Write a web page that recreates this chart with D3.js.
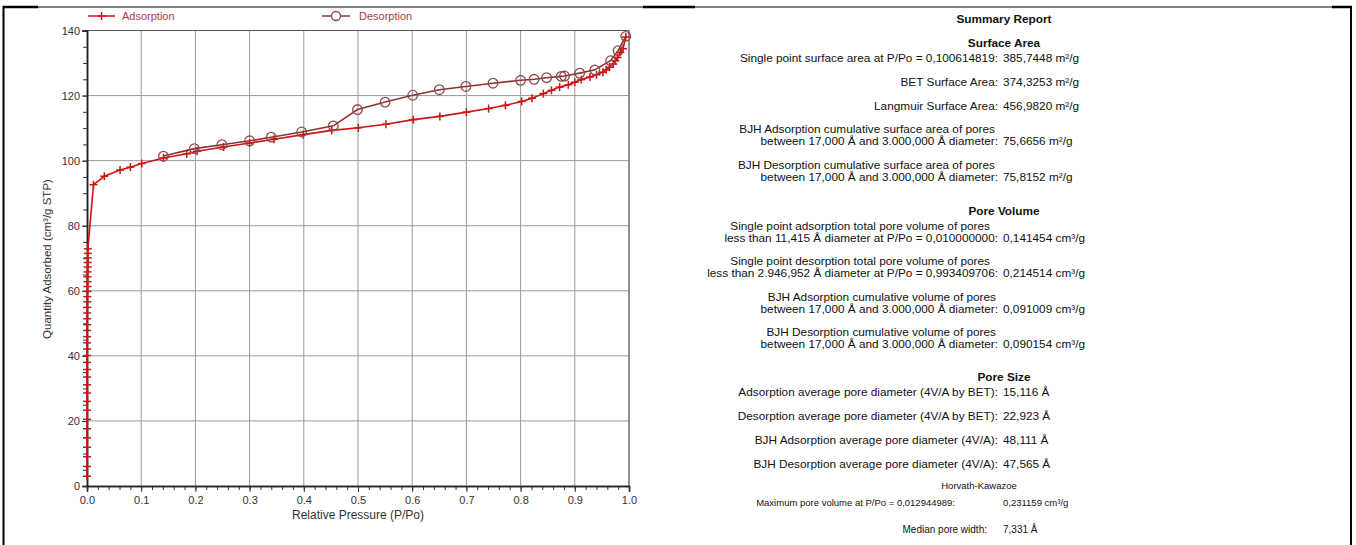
<!DOCTYPE html>
<html>
<head>
<meta charset="utf-8">
<script src="https://cdn.jsdelivr.net/npm/d3@7/dist/d3.min.js"></script>
<style>
  html, body { margin: 0; padding: 0; background: #fff; }
  svg { display: block; font-family: "Liberation Sans", Arial, sans-serif; }
</style>
</head>
<body>
<svg id="chart" width="1356" height="545"></svg>
<script>
// ---------------- DATA ----------------
// Adsorption branch: near-zero pressure stack (micropore filling)
const adsStackP = [0.00001,0.00002,0.00003,0.00004,0.00005,0.00006,0.00007,0.00008,0.00009,0.0001,
                   0.00012,0.00014,0.00016,0.00018,0.0002,0.00023,0.00026,0.0003,0.00034,0.00038,
                   0.00043,0.00048,0.00054,0.0006,0.00067,0.00075,0.00083,0.00092,0.001,0.0011,
                   0.0012,0.0013,0.0014,0.0015,0.0016];
const adsStackQ = [3.0,6.0,9.0,11.9,14.8,17.6,20.5,23.3,26.0,28.6,
                   31.1,33.5,35.8,38.0,40.1,42.1,44.0,45.9,47.8,49.6,
                   51.4,53.2,54.9,56.6,58.2,59.8,61.3,62.8,64.3,65.8,
                   67.3,68.7,70.1,71.5,72.9];
const adsP = [0.012,0.032,0.061,0.080,0.101,0.141,0.184,0.203,0.252,0.300,0.345,0.399,0.4515,0.5006,0.5516,
              0.602,0.651,0.700,0.741,0.772,0.802,0.821,0.842,0.857,0.872,0.888,0.900,0.912,0.928,0.940,
              0.952,0.958,0.964,0.971,0.975,0.979,0.984,0.989,0.994];
const adsQ = [92.6,95.2,97.1,98.0,99.1,100.8,102.1,102.9,104.2,105.4,106.6,108.0,109.3,110.1,111.2,
              112.6,113.6,114.9,116.0,117.0,118.2,119.2,120.6,121.6,122.6,123.3,124.1,124.9,125.7,126.4,
              127.2,127.9,128.7,129.7,130.7,131.7,133.3,134.4,138.0];
// Desorption branch
const desP = [0.994,0.980,0.966,0.937,0.909,0.881,0.875,0.848,0.825,0.800,0.749,0.699,0.650,0.601,0.550,
              0.499,0.4545,0.396,0.340,0.300,0.249,0.198,0.141];
const desQ = [138.2,133.8,130.7,127.9,126.9,126.0,125.9,125.5,125.0,124.7,123.8,122.8,121.8,120.1,118.0,
              115.7,110.7,108.8,107.2,106.1,104.9,103.7,101.4];

const xMajorTicks = [0.0,0.1,0.2,0.3,0.4,0.5,0.6,0.7,0.8,0.9,1.0];
const yMajorTicks = [0,20,40,60,80,100,120,140];
const seriesNames = ["Adsorption","Desorption"];
const xTitle = "Relative Pressure (P/Po)";
const yTitle = "Quantity Adsorbed (cm³/g STP)";

// Summary report text
const reportTitle = "Summary Report";
const sectionTitles = ["Surface Area","Pore Volume","Pore Size"];
const reportLabels = [
  ["Single point surface area at P/Po = 0,100614819:"],
  ["BET Surface Area:"],
  ["Langmuir Surface Area:"],
  ["BJH Adsorption cumulative surface area of pores","between 17,000 Å and 3.000,000 Å diameter:"],
  ["BJH Desorption cumulative surface area of pores","between 17,000 Å and 3.000,000 Å diameter:"],
  ["Single point adsorption total pore volume of pores","less than 11,415 Å diameter at P/Po = 0,010000000:"],
  ["Single point desorption total pore volume of pores","less than 2.946,952 Å diameter at P/Po = 0,993409706:"],
  ["BJH Adsorption cumulative volume of pores","between 17,000 Å and 3.000,000 Å diameter:"],
  ["BJH Desorption cumulative volume of pores","between 17,000 Å and 3.000,000 Å diameter:"],
  ["Adsorption average pore diameter (4V/A by BET):"],
  ["Desorption average pore diameter (4V/A by BET):"],
  ["BJH Adsorption average pore diameter (4V/A):"],
  ["BJH Desorption average pore diameter (4V/A):"]
];
const reportValues = ["385,7448 m²/g","374,3253 m²/g","456,9820 m²/g","75,6656 m²/g","75,8152 m²/g",
  "0,141454 cm³/g","0,214514 cm³/g","0,091009 cm³/g","0,090154 cm³/g",
  "15,116 Å","22,923 Å","48,111 Å","47,565 Å"];
const hkTitle = "Horvath-Kawazoe";
const hkLabels = ["Maximum pore volume at P/Po = 0,012944989:","Median pore width:"];
const hkValues = ["0,231159 cm³/g","7,331 Å"];

// ---------------- DRAW ----------------
const svg = d3.select("#chart");
svg.append("rect").attr("width",1356).attr("height",545).attr("fill","#fff");

// page frame
const frame = svg.append("g").attr("stroke","#000").attr("fill","none");
frame.append("line").attr("x1",3.5).attr("x2",3.5).attr("y1",6).attr("y2",545).attr("stroke-width",2);
frame.append("line").attr("x1",3).attr("x2",1352).attr("y1",7).attr("y2",7).attr("stroke-width",1);
frame.append("line").attr("x1",3).attr("x2",38).attr("y1",7).attr("y2",7).attr("stroke-width",2.5);
frame.append("line").attr("x1",643).attr("x2",695).attr("y1",7).attr("y2",7).attr("stroke-width",2.5);
frame.append("line").attr("x1",1332).attr("x2",1352).attr("y1",7).attr("y2",7).attr("stroke-width",2.5);
frame.append("line").attr("x1",1351).attr("x2",1351).attr("y1",6).attr("y2",545).attr("stroke-width",2);

const x = d3.scaleLinear().domain([0,1]).range([87,629]);
const y = d3.scaleLinear().domain([0,140]).range([486,30.5]);

// grid
const grid = svg.append("g").attr("stroke","#9a9a9a").attr("stroke-width",1);
grid.selectAll(".gx").data(xMajorTicks.slice(1)).join("line")
  .attr("x1",d=>x(d)).attr("x2",d=>x(d)).attr("y1",y(0)).attr("y2",y(140));
grid.selectAll(".gy").data(yMajorTicks.slice(1)).join("line")
  .attr("x1",x(0)).attr("x2",x(1)).attr("y1",d=>y(d)).attr("y2",d=>y(d));
// plot frame right/top
grid.append("line").attr("x1",x(1)).attr("x2",x(1)).attr("y1",y(0)).attr("y2",y(140)).attr("stroke","#555");
grid.append("line").attr("x1",x(0)).attr("x2",x(1)).attr("y1",y(140)).attr("y2",y(140)).attr("stroke","#555");

// axes
const xMinor = d3.range(0,1.0001,0.02).map(v=>+v.toFixed(2));
const yMinor = d3.range(0,140.001,5);
const gxMinor = svg.append("g").attr("transform",`translate(0,${y(0)})`)
  .call(d3.axisBottom(x).tickValues(xMinor).tickSize(4).tickFormat(""));
const gx = svg.append("g").attr("transform",`translate(0,${y(0)})`)
  .call(d3.axisBottom(x).tickValues(xMajorTicks).tickSize(6).tickPadding(4).tickFormat(d3.format(".1f")));
const gyMinor = svg.append("g").attr("transform",`translate(${x(0)},0)`)
  .call(d3.axisLeft(y).tickValues(yMinor).tickSize(4).tickFormat(""));
const gy = svg.append("g").attr("transform",`translate(${x(0)},0)`)
  .call(d3.axisLeft(y).tickValues(yMajorTicks).tickSize(5).tickPadding(2).tickFormat(d3.format("d")));
[gx,gy,gxMinor,gyMinor].forEach(g=>{
  g.select(".domain").attr("stroke","#222").attr("stroke-width",1.5);
  g.selectAll(".tick line").attr("stroke","#333");
  g.selectAll("text").attr("fill","#333").style("font-size","11px").style("font-family","'Liberation Sans', Arial, sans-serif");
});

// titles
svg.append("text").attr("x",358).attr("y",519).attr("text-anchor","middle")
  .style("font-size","12px").attr("fill","#333").text(xTitle);
svg.append("text").attr("transform",`translate(51,259) rotate(-90)`).attr("text-anchor","middle")
  .style("font-size","11.5px").attr("fill","#333").text(yTitle);

// series
const adsColor = "#cc1515", desColor = "#8a3434", desMarker = "#8e4a4a";
const adsData = adsStackP.map((p,i)=>({p,q:adsStackQ[i]})).concat(adsP.map((p,i)=>({p,q:adsQ[i]})));
const desData = desP.map((p,i)=>({p,q:desQ[i]}));
const line = d3.line().x(d=>x(d.p)).y(d=>y(d.q));

svg.append("path").datum(desData).attr("d",line).attr("fill","none").attr("stroke",desColor).attr("stroke-width",1.6);
svg.append("path").datum(adsData).attr("d",line).attr("fill","none").attr("stroke",adsColor).attr("stroke-width",1.6);

const cross = (g,cx,cy,s,color)=>{
  g.append("line").attr("x1",cx-s).attr("x2",cx+s).attr("y1",cy).attr("y2",cy).attr("stroke",color).attr("stroke-width",1.5);
  g.append("line").attr("x1",cx).attr("x2",cx).attr("y1",cy-s).attr("y2",cy+s).attr("stroke",color).attr("stroke-width",1.5);
};
const adsMarks = svg.append("g");
adsData.forEach(d=>cross(adsMarks,x(d.p),y(d.q),4,adsColor));
svg.append("g").selectAll("circle").data(desData).join("circle")
  .attr("cx",d=>x(d.p)).attr("cy",d=>y(d.q)).attr("r",4.8)
  .attr("fill","none").attr("stroke",desMarker).attr("stroke-width",1.3);

// legend
const leg = svg.append("g").style("font-size","11px");
leg.append("line").attr("x1",88).attr("x2",115).attr("y1",16).attr("y2",16).attr("stroke",adsColor).attr("stroke-width",1.5);
cross(leg,101.5,16,4,adsColor);
leg.append("text").attr("x",122).attr("y",20).attr("fill","#b03a44").text(seriesNames[0]);
leg.append("line").attr("x1",322).attr("x2",350).attr("y1",16).attr("y2",16).attr("stroke",desColor).attr("stroke-width",1.5);
leg.append("circle").attr("cx",336).attr("cy",16).attr("r",4.5).attr("fill","#fff").attr("stroke",desMarker).attr("stroke-width",1.3);
leg.append("text").attr("x",359).attr("y",20).attr("fill","#a0424a").text(seriesNames[1]);

// ---------------- REPORT ----------------
const rep = svg.append("g").attr("fill","#111").style("font-size","11.8px");
const colonX = 998, valX = 1003;
rep.append("text").attr("x",1004).attr("y",23).attr("text-anchor","middle").attr("font-weight","bold").text(reportTitle);
const secY = [47,215,381];
sectionTitles.forEach((t,i)=>rep.append("text").attr("x",1004).attr("y",secY[i]).attr("text-anchor","middle").attr("font-weight","bold").text(t));
// baseline positions of the label lines (last line of each entry)
const entryY = [62,86,110,145,181,242,277,313,348,396,420,444,468];
const firstLineEnd = [998,998,998,995,995,990,990,996,996,998,998,998,998];
reportLabels.forEach((lines,i)=>{
  const yb = entryY[i];
  if (lines.length===2){
    rep.append("text").attr("x",firstLineEnd[i]).attr("y",yb-12).attr("text-anchor","end").text(lines[0]);
    rep.append("text").attr("x",colonX).attr("y",yb).attr("text-anchor","end").text(lines[1]);
  } else {
    rep.append("text").attr("x",colonX).attr("y",yb).attr("text-anchor","end").text(lines[0]);
  }
  rep.append("text").attr("x",valX).attr("y",yb).text(reportValues[i]);
});
rep.append("text").attr("x",979).attr("y",489).attr("text-anchor","middle").style("font-size","9.5px").text(hkTitle);
rep.append("text").attr("x",955).attr("y",506).attr("text-anchor","end").style("font-size","9.5px").text(hkLabels[0]);
rep.append("text").attr("x",1003).attr("y",506).style("font-size","9.5px").text(hkValues[0]);
rep.append("text").attr("x",987).attr("y",533).attr("text-anchor","end").style("font-size","10px").text(hkLabels[1]);
rep.append("text").attr("x",1003).attr("y",533).style("font-size","10px").text(hkValues[1]);
</script>
</body>
</html>
